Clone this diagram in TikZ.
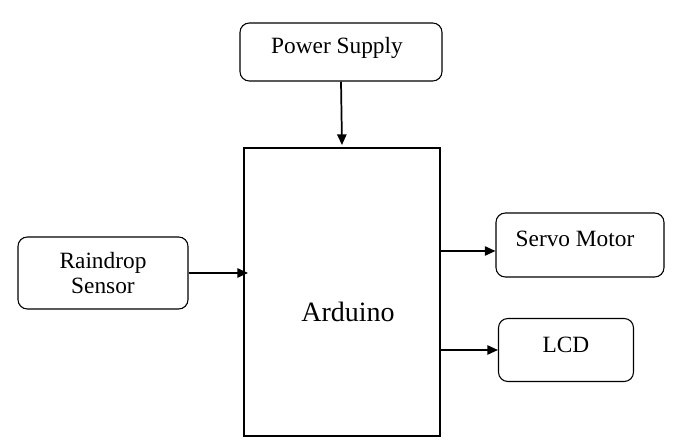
\documentclass[tikz,border=0pt]{standalone}
\usepackage{fontspec}
\setmainfont{Liberation Serif}
\usetikzlibrary{arrows.meta}
\begin{document}
\begin{tikzpicture}[x=0.75pt,y=-0.75pt,
  rbox/.style={draw,rounded corners=7pt,line width=0.8pt,align=center,font=\fontsize{17.5}{19}\selectfont,inner sep=0pt},
  lbl/.style={font=\fontsize{17.5}{19}\selectfont},
  arr/.style={-{Triangle[length=8pt,width=7pt]},line width=1.3pt}]
\useasboundingbox (0,0) rectangle (674,448);
\node[rbox,minimum width=202*0.75pt,minimum height=58*0.75pt] (ps) at (341,52) {};
\node[lbl] at (337,48) {Power Supply};
\node[draw,line width=0.8pt,minimum width=196*0.75pt,minimum height=288*0.75pt,inner sep=0pt] (ard) at (342,292) {};
\node[font=\fontsize{21}{23}\selectfont] (ardt) at (348,312) {Arduino};
\node[rbox,minimum width=170*0.75pt,minimum height=72*0.75pt] (rs) at (103,273) {Raindrop\\Sensor};
\node[rbox,minimum width=168*0.75pt,minimum height=64*0.75pt] (sm) at (580,245) {};
\node[lbl] at (575,239) {Servo Motor};
\node[rbox,minimum width=135*0.75pt,minimum height=63*0.75pt] (lcd) at (566,350) {};
\node[lbl] at (566,345) {LCD};
\draw[arr] (ps.south) -- (342,145);
\draw[arr] (rs.east) -- (248,273);
\draw[arr] (ard.east |- 0,251) -- (sm.west |- 0,251);
\draw[arr] (ard.east |- 0,350) -- (lcd.west |- 0,350);
\end{tikzpicture}
\end{document}
